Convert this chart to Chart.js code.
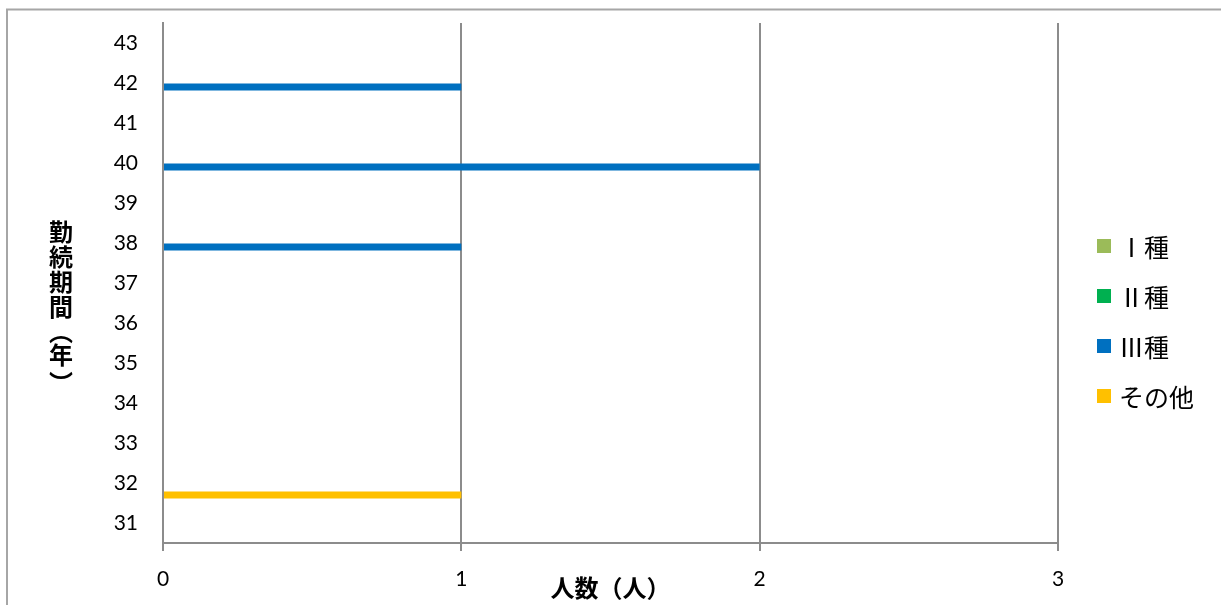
<!DOCTYPE html>
<html lang="ja">
<head>
  <meta charset="UTF-8">
  <title>勤続期間</title>
  <script src="https://cdn.jsdelivr.net/npm/chart.js@4"></script>
  <style>
    html, body { margin: 0; padding: 0; background: #fff; }
    #wrap { width: 1221px; height: 605px; }
  </style>
</head>
<body>
<div id="wrap"><canvas id="chart" width="1221" height="605"></canvas></div>
<script>
  // categories (years of service), bottom to top
  const years = ['31', '32', '33', '34', '35', '36', '37', '38', '39', '40', '41', '42', '43'];
  // number of people per type
  const type1 = [0, 0, 0, 0, 0, 0, 0, 0, 0, 0, 0, 0, 0];
  const type2 = [0, 0, 0, 0, 0, 0, 0, 0, 0, 0, 0, 0, 0];
  const type3 = [0, 0, 0, 0, 0, 0, 0, 1, 0, 2, 0, 1, 0];
  const other = [0, 1, 0, 0, 0, 0, 0, 0, 0, 0, 0, 0, 0];
  const seriesNames = ['Ⅰ種', 'Ⅱ種', 'Ⅲ種', 'その他'];
  const seriesColors = ['#9BBB59', '#00B050', '#0070C0', '#FFC000'];
  const xTicks = [0, 1, 2, 3];

  const yTitle = '勤続期間（年）';
  const xTitle = '人数（人）';

  const gridColor = '#8c8c8c';
  const cjk = '"Noto Sans CJK JP", "Noto Sans", sans-serif';

  // white background + outer frame
  const framePlugin = {
    id: 'frame',
    beforeDraw(chart) {
      const c = chart.ctx;
      c.save();
      c.fillStyle = '#fff';
      c.fillRect(0, 0, chart.width, chart.height);
      c.strokeStyle = '#a6a6a6';
      c.lineWidth = 2;
      c.strokeRect(7, 9.5, chart.width + 20, chart.height + 20);
      c.restore();
    }
  };

  // upright vertical axis title and legend on the right
  const textPlugin = {
    id: 'texts',
    afterDraw(chart) {
      const c = chart.ctx;
      c.save();
      c.fillStyle = '#000';
      c.textAlign = 'center';
      c.textBaseline = 'middle';
      c.font = 'bold 24px ' + cjk;
      const vert = { '（': '︵', '）': '︶' };
      let y = 232;
      for (const ch of yTitle) {
        c.fillText(vert[ch] || ch, 61, y);
        y += ch === '（' ? 23 : (ch === '年' ? 28 : 25);
      }

      // legend
      c.textAlign = 'left';
      c.font = '25px ' + cjk;
      chart.data.datasets.forEach((ds, i) => {
        const cy = 246 + i * 50;
        c.fillStyle = ds.backgroundColor;
        c.fillRect(1097, cy - 7, 14, 14);
        c.fillStyle = '#000';
        c.fillText(ds.label, 1119, cy + 1);
      });
      c.restore();
    }
  };

  const seriesData = [type1, type2, type3, other];

  const ctx = document.getElementById('chart').getContext('2d');
  new Chart(ctx, {
    type: 'bar',
    data: {
      labels: years,
      datasets: seriesData.map((d, i) => ({
        label: seriesNames[i],
        data: d,
        backgroundColor: seriesColors[i],
        borderWidth: 0,
        barPercentage: 0.9,
        categoryPercentage: 0.8
      }))
    },
    options: {
      indexAxis: 'y',
      responsive: false,
      animation: false,
      layout: { padding: { left: 0, right: 163, top: 23, bottom: 0 } },
      plugins: {
        legend: { display: false },
        tooltip: { enabled: false }
      },
      scales: {
        x: {
          type: 'linear',
          min: 0,
          max: 3,
          afterBuildTicks(axis) { axis.ticks = xTicks.map(v => ({ value: v })); },
          afterFit(axis) { axis.height = 62; },
          grid: { color: gridColor, lineWidth: 2, drawTicks: true, tickLength: 8 },
          border: { display: true, color: gridColor, width: 2 },
          ticks: {
            color: '#000',
            padding: 16,
            font: { family: 'Lato, "Open Sans", sans-serif', size: 21 }
          },
          title: {
            display: true,
            text: xTitle,
            color: '#000',
            padding: { top: 0, bottom: 3 },
            font: { family: cjk, size: 24, weight: 'bold' }
          }
        },
        y: {
          type: 'category',
          reverse: true,
          afterFit(axis) { axis.width = 163; },
          // invisible tick marks push the labels away from the axis
          grid: { display: true, drawOnChartArea: false, drawTicks: true, tickLength: 24, color: 'rgba(0,0,0,0)' },
          border: { display: true, color: gridColor, width: 2 },
          ticks: {
            color: '#000',
            padding: 1,
            font: { family: 'Lato, "Open Sans", sans-serif', size: 21 }
          }
        }
      }
    },
    plugins: [framePlugin, textPlugin]
  });
</script>
</body>
</html>
